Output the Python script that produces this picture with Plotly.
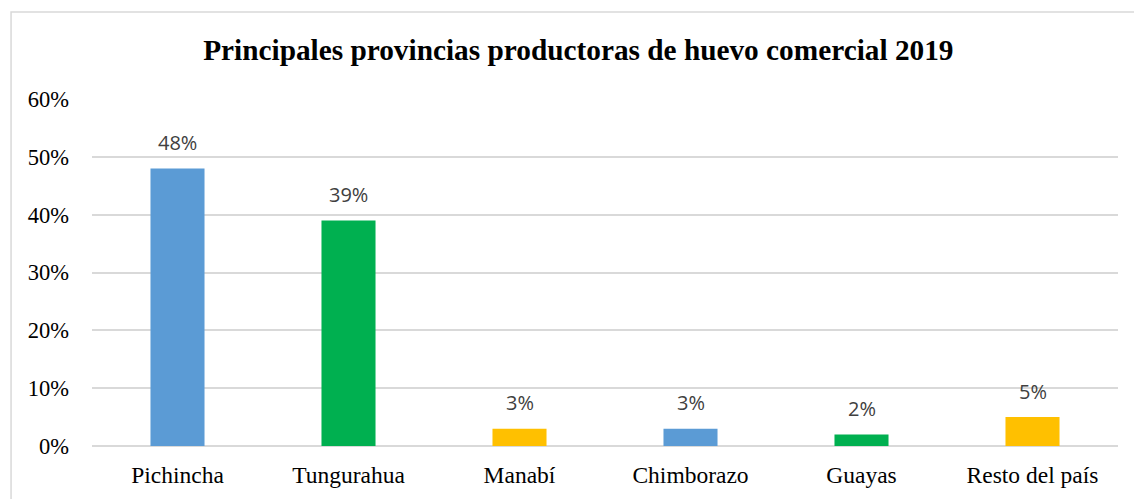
import plotly.graph_objects as go

categories = ["Pichincha", "Tungurahua", "Manabí", "Chimborazo", "Guayas", "Resto del país"]
values = [0.48, 0.39, 0.03, 0.03, 0.02, 0.05]
labels = ["48%", "39%", "3%", "3%", "2%", "5%"]
colors = ["#5B9BD5", "#00B050", "#FFC000", "#5B9BD5", "#00B050", "#FFC000"]
tick_vals = [0, 0.1, 0.2, 0.3, 0.4, 0.5, 0.6]
tick_text = ["0%", "10%", "20%", "30%", "40%", "50%", "60%"]
title = "Principales provincias productoras de huevo comercial 2019"

fig = go.Figure()
fig.add_trace(go.Bar(x=categories, y=values, marker=dict(color=colors, line=dict(width=0)),
                     width=0.316, hoverinfo="skip"))

for c, v, t in zip(categories, values, labels):
    fig.add_annotation(x=c, y=v, text=t, showarrow=False, yanchor="middle", yshift=26,
                       font=dict(family="Open Sans", size=20, color="#404040"))

fig.add_shape(type="rect", xref="paper", yref="paper", x0=-0.0789, x1=1.2, y0=-0.4, y1=1.2507,
              line=dict(color="#D9D9D9", width=1.5), fillcolor="rgba(0,0,0,0)", layer="below")

fig.update_layout(
    width=1134, height=499,
    margin=dict(l=92, r=16, t=99, b=53),
    paper_bgcolor="white", plot_bgcolor="white",
    showlegend=False,
    title=dict(text="<b>" + title + "</b>", x=0.51, xanchor="center", y=0.9, yanchor="middle",
               font=dict(family="Liberation Serif", size=29.3, color="black")),
    xaxis=dict(showgrid=False, showline=False, ticks="", ticklabelstandoff=12,
               tickfont=dict(family="Liberation Serif", size=23.5, color="black")),
    yaxis=dict(range=[0, 0.6], tickvals=tick_vals, ticktext=tick_text, showgrid=True,
               gridcolor="#D9D9D9", gridwidth=1.5, zeroline=True, zerolinecolor="#D9D9D9",
               zerolinewidth=1.5, showline=False, ticks="", ticklabelstandoff=22,
               tickfont=dict(family="Liberation Serif", size=22.5, color="black")),
)

fig.write_html("out.html", config={"displayModeBar": False},
               post_script="document.body.style.margin='0';document.body.style.overflow='hidden';")
